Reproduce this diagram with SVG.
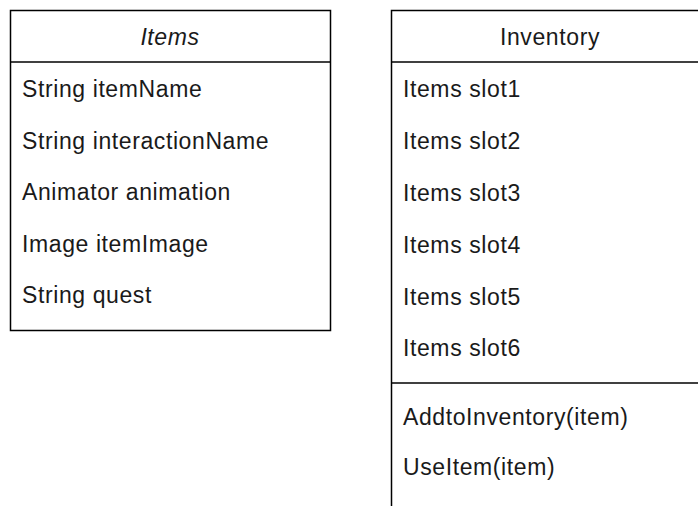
<svg xmlns="http://www.w3.org/2000/svg" width="698" height="506" viewBox="0 0 698 506">
<style>
.box{fill:#fff;stroke:#000;stroke-width:1.5}
.ln{stroke:#000;stroke-width:1.5;fill:none}
.t{font-family:"Liberation Sans",Arial,sans-serif;font-size:23px;fill:#1a1a1a;letter-spacing:0.6px}
.h{text-anchor:middle}
.i{font-style:italic}
</style>
<rect width="698" height="506" fill="#fff"/>
<g id="items">
<rect class="box" x="10.5" y="10.5" width="320" height="320"/>
<line class="ln" x1="10.5" y1="62" x2="330.5" y2="62"/>
<text class="t h i" x="170" y="45">Items</text>
<text class="t" x="22" y="97">String itemName</text>
<text class="t" x="22" y="148.5">String interactionName</text>
<text class="t" x="22" y="200">Animator animation</text>
<text class="t" x="22" y="251.5">Image itemImage</text>
<text class="t" x="22" y="303">String quest</text>
</g>
<g id="inventory">
<rect class="box" x="391.5" y="10.5" width="318" height="520"/>
<line class="ln" x1="391.5" y1="62" x2="709.5" y2="62"/>
<text class="t h" x="550" y="45">Inventory</text>
<text class="t" x="403" y="97">Items slot1</text>
<text class="t" x="403" y="149">Items slot2</text>
<text class="t" x="403" y="201">Items slot3</text>
<text class="t" x="403" y="253">Items slot4</text>
<text class="t" x="403" y="305">Items slot5</text>
<text class="t" x="403" y="356">Items slot6</text>
<line class="ln" x1="391.5" y1="383" x2="709.5" y2="383"/>
<text class="t" x="403" y="425">AddtoInventory(item)</text>
<text class="t" x="403" y="475">UseItem(item)</text>
</g>
<g id="connectors"></g>
</svg>
